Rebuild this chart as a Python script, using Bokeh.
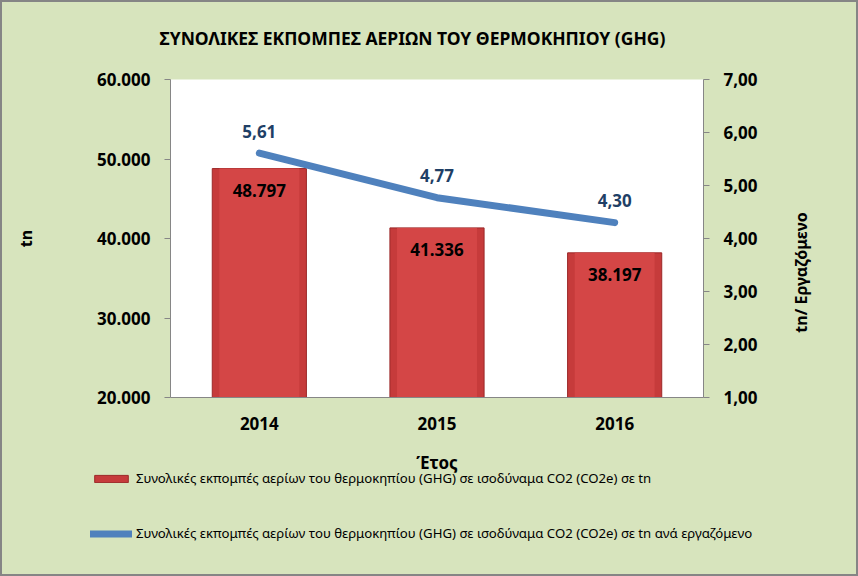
import math
from bokeh.plotting import figure
from bokeh.layouts import column, row
from bokeh.models import (Range1d, LinearAxis, FixedTicker, CustomJSTickFormatter,
                          ColumnDataSource, LabelSet, Label, Legend, LegendItem)
from bokeh.core.properties import value
from bokeh.embed import file_html
from bokeh.resources import INLINE

years = ["2014", "2015", "2016"]
emissions = [48797, 41336, 38197]
per_employee = [5.61, 4.77, 4.30]
left_ticks = [20000, 30000, 40000, 50000, 60000]
right_ticks = [1, 2, 3, 4, 5, 6, 7]
title_text = "ΣΥΝΟΛΙΚΕΣ ΕΚΠΟΜΠΕΣ ΑΕΡΙΩΝ ΤΟΥ ΘΕΡΜΟΚΗΠΙΟΥ (GHG)"
x_title = "Έτος"
left_title = "tn"
right_title = "tn/ Εργαζόμενο"
bar_legend = "Συνολικές εκπομπές αερίων του θερμοκηπίου (GHG) σε ισοδύναμα CO2 (CO2e) σε tn"
line_legend = "Συνολικές εκπομπές αερίων του θερμοκηπίου (GHG) σε ισοδύναμα CO2 (CO2e) σε tn ανά εργαζόμενο"

FONT = "Noto Sans"
BG = "#d7e4bd"
BAR_FILL = "#c63b3b"
BAR_LINE = "#9c2828"
LINE_COL = "#4f81bd"


def strip(w, h):
    f = figure(width=w, height=h, x_range=Range1d(0, 1), y_range=Range1d(0, 1),
               output_backend="svg", toolbar_location=None, min_border=0)
    f.axis.visible = False
    f.grid.visible = False
    f.outline_line_color = None
    f.background_fill_color = BG
    f.border_fill_color = BG
    if hasattr(f, "frame_align"):
        f.frame_align = False
    return f


src = ColumnDataSource(dict(
    year=years,
    em=emissions,
    base=[left_ticks[0]] * len(years),
    em_lbl=[f"{v:,.0f}".replace(",", ".") for v in emissions],
    pe=per_employee,
    pe_lbl=[f"{v:.2f}".replace(".", ",") for v in per_employee],
))

W = 854
# ---- top strip: title
t = strip(W, 60)
t.add_layout(Label(x=410, y=25, x_units="screen", y_units="screen", text=title_text,
                   text_align="center", text_baseline="middle",
                   text_font=FONT, text_font_style="bold",
                   text_font_size="17.5px", text_color="black"))

# ---- main chart
p = figure(width=768, height=383, x_range=years,
           y_range=Range1d(left_ticks[0], left_ticks[-1]),
           output_backend="svg", toolbar_location=None,
           min_border_left=168, min_border_right=67,
           min_border_top=17, min_border_bottom=48)
if hasattr(p, "frame_align"):
    p.frame_align = False
p.background_fill_color = "white"
p.border_fill_color = BG
p.outline_line_color = None
p.grid.visible = False
p.extra_y_ranges = {"r": Range1d(right_ticks[0], right_ticks[-1])}

p.vbar(x="year", top="em", bottom="base", width=0.53, source=src,
       fill_color=BAR_FILL, line_color=BAR_LINE, line_width=1)
p.vbar(x="year", top="em", bottom="base", width=0.45, source=src,
       fill_color="#d44646", line_color=None)
p.line(x="year", y="pe", source=src, y_range_name="r",
       line_color=LINE_COL, line_width=7, line_cap="round")

p.add_layout(LabelSet(x="year", y="em", text="em_lbl", source=src,
                      y_offset=-22, text_align="center", text_baseline="middle",
                      text_font=value(FONT), text_font_style="bold",
                      text_font_size="17px", text_color="black"))
p.add_layout(LabelSet(x="year", y="pe", text="pe_lbl", source=src, y_range_name="r",
                      y_offset=22, text_align="center", text_baseline="middle",
                      text_font=value(FONT), text_font_style="bold",
                      text_font_size="17px", text_color="#1f3f66"))

ax_col = "#868686"
yl = p.yaxis[0]
yl.ticker = FixedTicker(ticks=left_ticks)
yl.formatter = CustomJSTickFormatter(code="return tick.toFixed(0).replace(/\\B(?=(\\d{3})+(?!\\d))/g, '.');")
yl.axis_label = left_title
yr = LinearAxis(y_range_name="r", ticker=FixedTicker(ticks=right_ticks),
                formatter=CustomJSTickFormatter(code="return tick.toFixed(2).replace('.', ',');"))
p.add_layout(yr, "right")

for ax in (yl, yr):
    ax.axis_line_color = ax_col
    ax.major_tick_line_color = ax_col
    ax.major_tick_out = 6
    ax.major_tick_in = 0
    ax.minor_tick_line_color = None
    ax.major_label_text_font = FONT
    ax.major_label_text_font_style = "bold"
    ax.major_label_text_font_size = "17px"
    ax.major_label_text_color = "black"
    ax.axis_label_text_font = FONT
    ax.axis_label_text_font_style = "bold"
    ax.axis_label_text_font_size = "16px"
    ax.axis_label_text_color = "black"
yl.major_label_standoff = 14
yl.axis_label_standoff = 57
yr.major_label_standoff = 14

xa = p.xaxis[0]
xa.axis_line_color = ax_col
xa.major_tick_line_color = None
xa.minor_tick_line_color = None
xa.major_label_standoff = 13
xa.major_label_text_font = FONT
xa.major_label_text_font_style = "bold"
xa.major_label_text_font_size = "17px"
xa.major_label_text_color = "black"

# ---- right strip: right axis title (reads bottom to top)
r = strip(W - 768, 383)
r.add_layout(Label(x=30, y=173, x_units="screen", y_units="screen", text=right_title,
                   angle=math.pi / 2, text_align="center", text_baseline="middle",
                   text_font=FONT, text_font_style="bold",
                   text_font_size="16px", text_color="black"))

# ---- bottom strip: x-axis title and legend
q = strip(W, 129)
# legend proxies: same data, lying far outside this strip's 0..1 ranges (not visible)
bar_proxy = q.vbar(x=emissions, top=emissions, width=1,
                   fill_color=BAR_FILL, line_color=BAR_LINE)
line_proxy = q.line(x=emissions, y=emissions, line_color=LINE_COL,
                    line_width=7, line_cap="round")
q.add_layout(Label(x=434.5, y=112, x_units="screen", y_units="screen", text=x_title,
                   text_align="center", text_baseline="middle",
                   text_font=FONT, text_font_style="bold",
                   text_font_size="17px", text_color="black"))
legend = Legend(items=[LegendItem(label=bar_legend, renderers=[bar_proxy]),
                       LegendItem(label=line_legend, renderers=[line_proxy])],
                location=(88, 31), orientation="vertical",
                glyph_width=42, glyph_height=9, label_standoff=4, spacing=35,
                label_height=20,
                padding=0, margin=0, border_line_color=None,
                background_fill_alpha=0,
                label_text_font=FONT, label_text_font_size="13.2px",
                label_text_color="black")
q.add_layout(legend, "center")

layout = column(t, row(p, r, spacing=0), q, spacing=0)
layout.styles = {"border": "2px solid #858585", "background-color": BG}

open("out.html", "w").write(file_html(layout, INLINE))
